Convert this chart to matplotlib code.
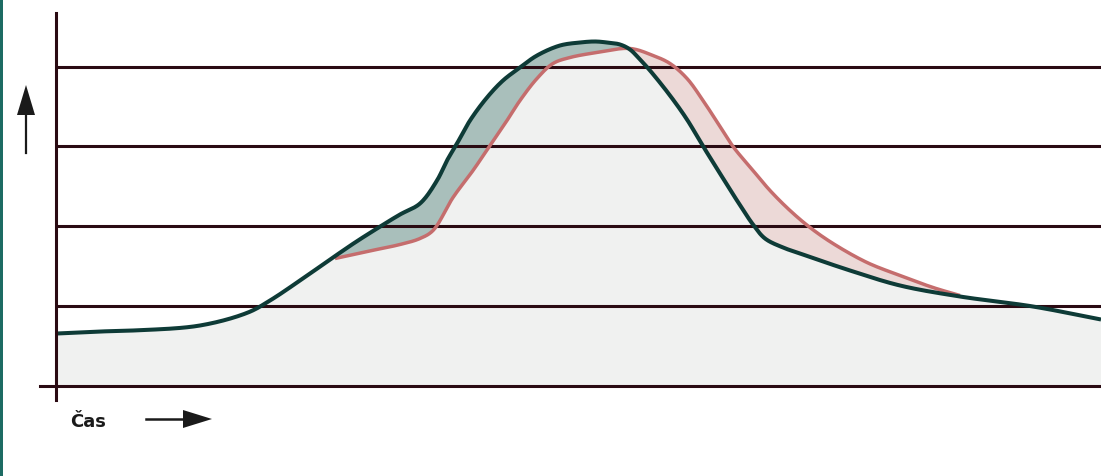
import numpy as np
import matplotlib
matplotlib.use("Agg")
import matplotlib.pyplot as plt
from matplotlib.patches import Polygon, Rectangle
from matplotlib.lines import Line2D

# ---- data (time units, level units) ----
green_t = [0, 43, 76, 143, 191, 213, 243, 276, 298, 320, 343, 363, 380, 390, 400, 413,
           430, 446, 463, 480, 503, 523, 538, 550, 563, 573, 583, 593, 613, 630, 645, 663,
           680, 696, 708, 726, 743, 793, 843, 903, 976, 1044]
green_v = [52, 54, 55, 60, 73, 85, 105, 128, 143, 157, 171, 182, 205, 225, 242, 265,
           288, 305, 318, 330, 340, 343, 344, 343, 341, 336, 326, 315, 290, 266, 241, 212,
           185, 161, 147, 138, 132, 115, 100, 89, 79, 66]

pink_t = [278, 310, 343, 363, 376, 396, 416, 433, 450, 463, 480, 496, 513, 540, 573, 596,
          613, 630, 646, 663, 676, 696, 713, 733, 753, 776, 810, 843, 876, 903]
pink_v = [127, 134, 141, 147, 155, 188, 215, 240, 265, 285, 307, 322, 328, 333, 337, 330,
          322, 307, 285, 259, 239, 215, 195, 175, 158, 142, 123, 110, 98, 90]

grid_levels = [80, 160, 240, 319]
x_label = "Čas"

# ---- style ----
W, H = 1101, 476
AX_COL = "#2a0a12"
GREEN = "#0e3b37"
PINK = "#c56d6d"
GRAY_FILL = "#f0f1f0"
GREEN_FILL = "#a9bfbb"
PINK_FILL = "#ecd9d7"


def smooth(xs, ys, n=20):
    """Centripetal Catmull-Rom rendering through the read points."""
    P = np.column_stack([xs, ys]).astype(float)
    P = np.vstack([2 * P[0] - P[1], P, 2 * P[-1] - P[-2]])
    out = []
    for i in range(1, len(P) - 2):
        p0, p1, p2, p3 = P[i - 1], P[i], P[i + 1], P[i + 2]

        def tj(ti, a, b):
            return ti + np.linalg.norm(b - a) ** 0.5 + 1e-9
        t0 = 0.0
        t1 = tj(t0, p0, p1)
        t2 = tj(t1, p1, p2)
        t3 = tj(t2, p2, p3)
        t = np.linspace(t1, t2, n, endpoint=False)[:, None]
        A1 = (t1 - t) / (t1 - t0) * p0 + (t - t0) / (t1 - t0) * p1
        A2 = (t2 - t) / (t2 - t1) * p1 + (t - t1) / (t2 - t1) * p2
        A3 = (t3 - t) / (t3 - t2) * p2 + (t - t2) / (t3 - t2) * p3
        B1 = (t2 - t) / (t2 - t0) * A1 + (t - t0) / (t2 - t0) * A2
        B2 = (t3 - t) / (t3 - t1) * A2 + (t - t1) / (t3 - t1) * A3
        C = (t2 - t) / (t2 - t1) * B1 + (t - t1) / (t2 - t1) * B2
        out.append(C)
    out.append(P[-2][None, :])
    C = np.vstack(out)
    return C[:, 0], C[:, 1]


fig = plt.figure(figsize=(W / 100, H / 100), dpi=100)
fig.patch.set_facecolor("white")

left = 57 / W
bottom = (H - 385.5) / H
top = (H - 13) / H
ax = fig.add_axes([left, bottom, 1 - left, top - bottom])
ax.set_xlim(0, 1044)
ax.set_ylim(0, 372.5)
ax.axis("off")

gx, gy = smooth(green_t, green_v)
px_, py_ = smooth(pink_t, pink_v)

# fills
tt = np.linspace(0, 1044, 4000)
g = np.interp(tt, gx, gy)
p = np.interp(tt, px_, py_)
inside = (tt >= pink_t[0]) & (tt <= pink_t[-1])
p = np.where(inside, p, g)
lower = np.minimum(g, p)
ax.fill_between(tt, 0, lower, color=GRAY_FILL, lw=0, zorder=1)
ax.fill_between(tt, p, g, where=g > p, color=GREEN_FILL, lw=0, zorder=1, interpolate=True)
ax.fill_between(tt, g, p, where=p > g, color=PINK_FILL, lw=0, zorder=1, interpolate=True)

# gridlines
for lv in grid_levels:
    ax.axhline(lv, color=AX_COL, lw=2.2, zorder=2)

# curves
ax.plot(px_, py_, color=PINK, lw=2.5, zorder=3, solid_capstyle="butt")
ax.plot(gx, gy, color=GREEN, lw=2.9, zorder=4, solid_capstyle="butt")

# axes lines
ax.plot([-1, -1], [-14.5, 372.5], color=AX_COL, lw=2.2, clip_on=False, zorder=5)
ax.plot([-17, 1044], [0, 0], color=AX_COL, lw=2.2, clip_on=False, zorder=5)


def fp(x, y):
    return (x / W, (H - y) / H)


# up arrow
fig.add_artist(Line2D([fp(26, 153)[0], fp(26, 110)[0]], [fp(26, 153)[1], fp(26, 110)[1]],
                      color="#1a1a1a", lw=1.6, transform=fig.transFigure))
fig.add_artist(Polygon([fp(26, 85), fp(17, 115), fp(35, 115)], closed=True,
                       color="#1a1a1a", transform=fig.transFigure, lw=0))
# right arrow
fig.add_artist(Line2D([fp(146, 419)[0], fp(190, 419)[0]], [fp(146, 419)[1], fp(190, 419)[1]],
                      color="#1a1a1a", lw=1.8, transform=fig.transFigure))
fig.add_artist(Polygon([fp(212, 419), fp(183, 410), fp(183, 428)], closed=True,
                       color="#1a1a1a", transform=fig.transFigure, lw=0))

# label
fig.text(70 / W, (H - 427) / H, x_label, fontsize=13, fontweight="bold", color="#1a1a1a",
         ha="left", va="baseline", family="DejaVu Sans")

# left border strip
fig.add_artist(Rectangle((0, 0), 2.5 / W, 1, transform=fig.transFigure,
                         color="#1d6b63", lw=0))

fig.savefig("out.png", dpi=100)
